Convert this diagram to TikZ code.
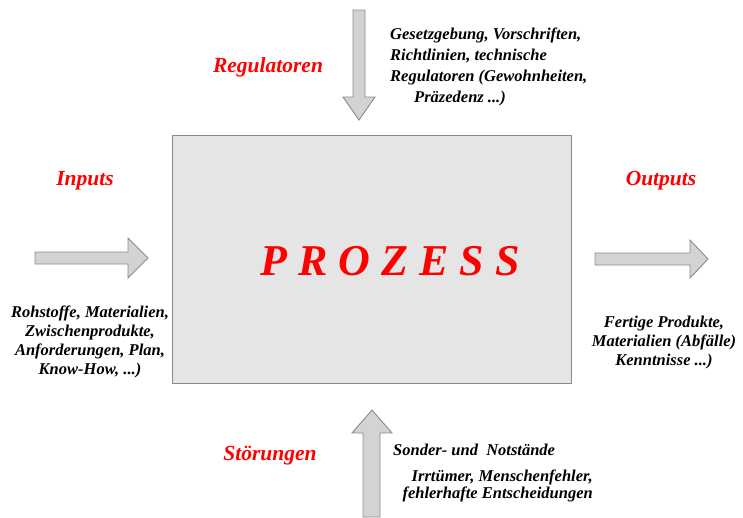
\documentclass[tikz,border=0pt]{standalone}
\usepackage{fontspec}
\setmainfont{Liberation Serif}[BoldItalicFont={Liberation Serif Bold Italic}]
\usetikzlibrary{positioning}

\definecolor{boxgray}{HTML}{E5E5E5}
\definecolor{arrowgray}{HTML}{D3D3D3}
\definecolor{edgegray}{HTML}{8A8A8A}

\begin{document}
\begin{tikzpicture}[
  x=1pt, y=-1pt,
  heading/.style={font=\fontsize{21.5}{25}\selectfont\bfseries\itshape, text=red, inner sep=0pt},
  note/.style={font=\fontsize{16.5}{19}\selectfont\bfseries\itshape, inner sep=0pt},
  blockarrow/.style={fill=arrowgray, draw=edgegray, line width=0.9pt, line join=miter}
]
\useasboundingbox (0,0) rectangle (743,517);

% Process
\node[draw=edgegray, fill=boxgray, line width=1.3pt, anchor=north west,
  minimum width=399pt, minimum height=248pt] (prozess) at (172,135) {};
\node[font=\fontsize{44}{50}\selectfont\bfseries\itshape, text=red, inner sep=0pt, anchor=base]
  (title) at (390,275) {P\hspace{11pt}R\hspace{11pt}O\hspace{11pt}Z\hspace{11pt}E\hspace{11pt}S\hspace{11pt}S};

% Block arrows
\draw[blockarrow] (353,10) -- (353,97) -- (343,97) -- (359,120) -- (375,97) -- (365,97) -- (365,10) -- cycle;
\draw[blockarrow] (35,252) -- (128,252) -- (128,238) -- (148,258) -- (128,278) -- (128,264) -- (35,264) -- cycle;
\draw[blockarrow] (595,253) -- (690,253) -- (690,240) -- (708,259) -- (690,278) -- (690,265) -- (595,265) -- cycle;
\draw[blockarrow] (363,517) -- (363,433) -- (352,433) -- (372,410) -- (392,433) -- (380,433) -- (380,517) -- cycle;

% Headings
\node[heading, anchor=base] (regulatoren) at (268,72) {Regulatoren};
\node[heading, anchor=base] (inputs) at (85,185) {Inputs};
\node[heading, anchor=base] (outputs) at (661,185) {Outputs};
\node[heading, anchor=base] (stoerungen) at (270,460) {Störungen};

% Notes
\node[note, font=\fontsize{16.5}{21}\selectfont\bfseries\itshape, align=left, anchor=north west]
  (regnote) at (390,27.5) {Gesetzgebung, Vorschriften,\\ Richtlinien, technische\\ Regulatoren (Gewohnheiten,\\ \hspace*{24pt}Präzedenz ...)};
\node[note, align=center, anchor=north] (innote) at (90,305.5)
  {Rohstoffe, Materialien,\\ Zwischenprodukte,\\ Anforderungen, Plan,\\ Know-How, ...)};
\node[note, align=center, anchor=north] (outnote) at (664,315.5)
  {Fertige Produkte,\\ Materialien (Abfälle)\\ Kenntnisse ...)};
\node[note, anchor=base west] (notstand) at (393,455) {Sonder- und\ \ Notstände};
\node[note, font=\fontsize{16.5}{17}\selectfont\bfseries\itshape, align=right, anchor=north east]
  (fehler) at (593,469.5) {Irrtümer, Menschenfehler,\\ fehlerhafte Entscheidungen};

\end{tikzpicture}
\end{document}
